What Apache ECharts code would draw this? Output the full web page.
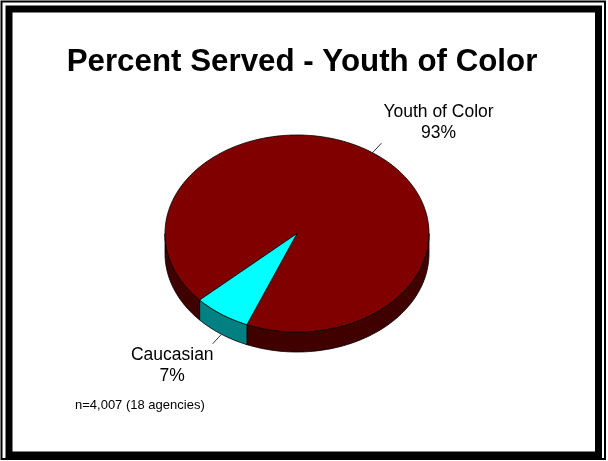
<!DOCTYPE html>
<html>
<head>
<meta charset="utf-8">
<style>
  html, body { margin: 0; padding: 0; background: #fff; }
  #chart { width: 608px; height: 461px; }
</style>
<script src="https://cdn.jsdelivr.net/npm/echarts@6/dist/echarts.min.js"></script>
</head>
<body>
<div id="chart"></div>
<script>
// Share of youth served, by group
const categories = ['Youth of Color', 'Caucasian'];
const percentValues = [93, 7];
const titleText = 'Percent Served - Youth of Color';
const noteText = 'n=4,007 (18 agencies)';

// Palette: top face and darker side wall for each slice
const topColors = ['#800000', '#00FFFF'];
const sideColors = ['#400000', '#008080'];

// Tilted pie layout (ellipse of the top face, wall depth, starting angle)
const PIE = { cx: 297, cy: 233.5, rx: 132, ry: 98.5, depth: 20, start: 137.5 };
const LABEL_FONT = '17.5px "Liberation Sans", Arial, sans-serif';
const LEADER_LEN = 13;

const total = percentValues.reduce((a, b) => a + b, 0);
const spans = [];
{
  let a = PIE.start;
  percentValues.forEach(v => {
    const sweep = v / total * 360;
    spans.push([a, a + sweep]);
    a += sweep;
  });
}

const rad = d => d * Math.PI / 180;
const pt = (deg, dy) => [PIE.cx + PIE.rx * Math.cos(rad(deg)), PIE.cy + PIE.ry * Math.sin(rad(deg)) + (dy || 0)];
function arc(a0, a1, dy) {
  const pts = [];
  const n = Math.max(2, Math.ceil(Math.abs(a1 - a0)));
  for (let i = 0; i <= n; i++) pts.push(pt(a0 + (a1 - a0) * i / n, dy));
  return pts;
}

const measureCtx = document.createElement('canvas').getContext('2d');
function textWidth(lines) {
  measureCtx.font = LABEL_FONT;
  return Math.max(...lines.map(l => measureCtx.measureText(l).width));
}

function renderItem(params, api) {
  const i = params.dataIndex;
  const [a0, a1] = spans[i];
  const children = [];

  // Outer wall: only the front half of the rim (0..180 deg, y pointing down) is visible
  for (let k = 0; k <= 1; k++) {
    const lo = Math.max(a0, 360 * k), hi = Math.min(a1, 360 * k + 180);
    if (hi > lo) {
      const upper = arc(lo, hi, 0);
      const lower = arc(hi, lo, PIE.depth);
      children.push({
        type: 'polygon', z2: 1,
        shape: { points: upper.concat(lower) },
        style: { fill: sideColors[i], stroke: '#000', lineWidth: 0.8, lineJoin: 'round' }
      });
    }
  }

  // Top face sector
  children.push({
    type: 'polygon', z2: 2,
    shape: { points: [[PIE.cx, PIE.cy]].concat(arc(a0, a1, 0)) },
    style: { fill: topColors[i], stroke: '#000', lineWidth: 0.8, lineJoin: 'round' }
  });

  // Leader line from the rim (bottom edge for front slices) outwards
  const mid = (a0 + a1) / 2;
  const sinM = Math.sin(rad(mid));
  const start = pt(mid, sinM > 0 ? PIE.depth : 0);
  const base = pt(mid, 0);
  const dx = base[0] - PIE.cx, dy = base[1] - PIE.cy;
  const len = Math.hypot(dx, dy);
  const end = [start[0] + dx / len * LEADER_LEN, start[1] + dy / len * LEADER_LEN];
  children.push({
    type: 'line', z2: 3,
    shape: { x1: start[0], y1: start[1], x2: end[0], y2: end[1] },
    style: { stroke: '#000', lineWidth: 0.8 }
  });

  // Category label with percentage
  const lines = [categories[i], api.value(0) + '%'];
  const w = textWidth(lines);
  const right = end[0] >= PIE.cx;
  const above = end[1] < PIE.cy;
  children.push({
    type: 'text', z2: 3,
    style: {
      text: lines.join('\n'),
      x: right ? end[0] + 2 + w / 2 : end[0] + 1 - w / 2,
      y: above ? end[1] + 0.5 : end[1] + 1,
      align: 'center',
      verticalAlign: above ? 'bottom' : 'top',
      font: LABEL_FONT,
      lineHeight: 21,
      fill: '#000'
    }
  });

  return { type: 'group', children };
}

const chart = echarts.init(document.getElementById('chart'), null, { renderer: 'canvas' });
chart.setOption({
  animation: false,
  backgroundColor: '#fff',
  graphic: [
    // double frame
    { type: 'rect', shape: { x: 1.5, y: 1.5, width: 603.5, height: 457.5 },
      style: { fill: null, stroke: '#000', lineWidth: 2 }, z: 0 },
    { type: 'rect', shape: { x: 9, y: 9, width: 589.5, height: 446 },
      style: { fill: null, stroke: '#000', lineWidth: 7 }, z: 0 },
    { type: 'text', style: {
        text: titleText, x: 302, y: 62, align: 'center', verticalAlign: 'middle',
        font: 'bold 31.3px "Liberation Sans", Arial, sans-serif', fill: '#000' }, z: 5 },
    { type: 'text', style: {
        text: noteText, x: 75, y: 405, align: 'left', verticalAlign: 'middle',
        font: '13px "Liberation Sans", Arial, sans-serif', fill: '#000' }, z: 5 }
  ],
  series: [{
    type: 'custom',
    coordinateSystem: 'none',
    renderItem,
    data: percentValues.map((v, i) => ({ name: categories[i], value: v }))
  }]
});
</script>
</body>
</html>
